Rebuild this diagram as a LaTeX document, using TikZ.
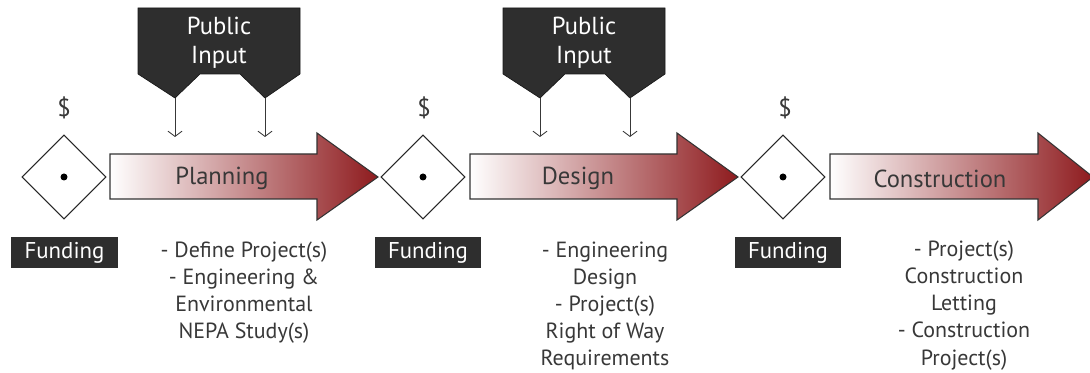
\documentclass[tikz,border=0pt]{standalone}
\usepackage{fontspec}
\setmainfont{PT Sans}
\usetikzlibrary{shapes.geometric,arrows.meta}
\definecolor{boxgray}{HTML}{2E2E2E}
\definecolor{stagered}{HTML}{8E1B1E}
\definecolor{inkgray}{HTML}{383838}
\tikzset{
  gate/.style={diamond,draw=black!85,line width=0.6pt,minimum size=1.68cm,inner sep=0pt},
  fundbox/.style={fill=boxgray,text=white,minimum width=2.12cm,minimum height=0.62cm,inner sep=0pt,font=\fontsize{13}{15}\selectfont},
  stage/.style={draw=black!80,line width=0.6pt,left color=white,middle color=stagered!68,right color=stagered},
  inputbox/.style={fill=boxgray,draw=black!90,line width=0.4pt},
  feed/.style={draw=inkgray,line width=0.5pt,-{Straight Barb[length=3pt,width=8pt]}},
  desc/.style={align=center,text=inkgray,font=\fontsize{12.5}{15.4}\selectfont}
}

\begin{document}
\begin{tikzpicture}
            \useasboundingbox (0,0) rectangle (21.8,7.46);
            \clip (0,0) rectangle (21.8,7.46);
            % funding gates
            \node[gate] (gate1) at (1.28,3.92) {};
            \node[gate] (gate2) at (8.46,3.92) {};
            \node[gate] (gate3) at (15.66,3.92) {};
            \fill[black] (gate1.center) circle (0.07);
            \fill[black] (gate2.center) circle (0.07);
            \fill[black] (gate3.center) circle (0.07);
            \node[text=inkgray,font=\fontsize{14}{16}\selectfont] (cash1) at (1.28,5.3) {\$};
            \node[text=inkgray,font=\fontsize{14}{16}\selectfont] (cash2) at (8.48,5.3) {\$};
            \node[text=inkgray,font=\fontsize{14}{16}\selectfont] (cash3) at (15.7,5.3) {\$};
            \node[fundbox] (fund1) at (1.29,2.41) {Funding};
            \node[fundbox] (fund2) at (8.56,2.41) {Funding};
            \node[fundbox] (fund3) at (15.76,2.41) {Funding};
            % stage arrows
            \draw[stage] (2.2,4.38) -- (6.34,4.38) -- (6.34,4.8) -- (7.56,3.92) -- (6.34,3.06) -- (6.34,3.48) -- (2.2,3.48) -- cycle;
            \draw[stage] (9.4,4.38) -- (13.54,4.38) -- (13.54,4.8) -- (14.76,3.92) -- (13.54,3.06) -- (13.54,3.48) -- (9.4,3.48) -- cycle;
            \draw[stage] (16.6,4.38) -- (20.76,4.38) -- (20.76,4.8) -- (21.86,3.92) -- (20.76,3.06) -- (20.76,3.48) -- (16.6,3.48) -- cycle;
            \node[text=inkgray,font=\fontsize{14}{16}\selectfont] (plan) at (4.44,3.89) {Planning};
            \node[text=inkgray,font=\fontsize{14}{16}\selectfont] (design) at (11.56,3.89) {Design};
            \node[text=inkgray,font=\fontsize{14}{16}\selectfont] (build) at (18.8,3.89) {Construction};
            % public input boxes
            \draw[inputbox] (2.76,7.3) -- (6.0,7.3) -- (6.0,5.98) -- (5.3,5.5) -- (4.8,5.98) -- (4.0,5.98) -- (3.5,5.5) -- (2.76,5.98) -- cycle;
            \draw[inputbox] (10.06,7.3) -- (13.3,7.3) -- (13.3,5.98) -- (12.6,5.5) -- (12.1,5.98) -- (11.3,5.98) -- (10.8,5.5) -- (10.06,5.98) -- cycle;
            \node[align=center,text=white,font=\fontsize{14}{16.6}\selectfont] (input1) at (4.38,6.61) {Public\\Input};
            \node[align=center,text=white,font=\fontsize{14}{16.6}\selectfont] (input2) at (11.68,6.61) {Public\\Input};
            \coordinate (in1a) at (3.5,5.5);
            \coordinate (in1b) at (5.3,5.5);
            \coordinate (in2a) at (10.8,5.5);
            \coordinate (in2b) at (12.6,5.5);
            \coordinate (to1a) at (3.5,4.72);
            \coordinate (to1b) at (5.3,4.72);
            \coordinate (to2a) at (10.8,4.72);
            \coordinate (to2b) at (12.6,4.72);
            \draw[feed] (in1a) -- (to1a);
            \draw[feed] (in1b) -- (to1b);
            \draw[feed] (in2a) -- (to2a);
            \draw[feed] (in2b) -- (to2b);
            % what each stage covers
            \node[desc] (planlist) at (4.88,1.6) {- Define Project(s)\\- Engineering \&\\Environmental\\NEPA Study(s)};
            \node[desc] (designlist) at (12.1,1.34) {- Engineering\\Design\\- Project(s)\\Right of Way\\Requirements};
            \node[desc] (buildlist) at (19.28,1.35) {- Project(s)\\Construction\\Letting\\- Construction\\Project(s)};
        \end{tikzpicture}
\end{document}
